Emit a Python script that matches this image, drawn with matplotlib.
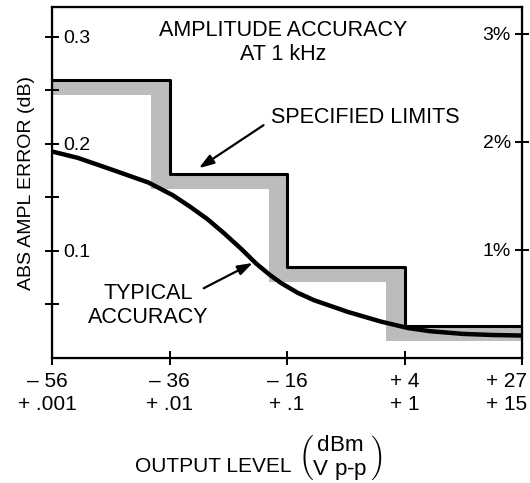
import numpy as np
import matplotlib
matplotlib.use('Agg')
import matplotlib.pyplot as plt
from matplotlib.transforms import ScaledTranslation

plt.rcParams['font.family'] = ['Liberation Sans', 'DejaVu Sans']
plt.rcParams['mathtext.fontset'] = 'custom'
plt.rcParams['mathtext.rm'] = 'Liberation Sans'

# x axis: five output levels, equally spaced
levels_dbm = ['– 56', '– 36', '– 16', '+ 4', '+ 27']
levels_vpp = ['+ .001', '+ .01', '+ .1', '+ 1', '+ 15']

# specified limits (dB), one level per segment
spec_edges = [0, 1, 2, 3, 4]
spec_db = [0.26, 0.172, 0.085, 0.030]

# typical accuracy curve (dB)
typ_x = [0.00, 0.22, 0.51, 0.82, 1.03, 1.18, 1.32, 1.46, 1.61, 1.74, 1.85, 1.95,
         2.09, 2.23, 2.52, 2.80, 3.03, 3.22, 3.50, 3.75, 4.00]
typ_db = [0.193, 0.187, 0.176, 0.164, 0.152, 0.141, 0.130, 0.117, 0.102, 0.088, 0.078, 0.070,
          0.061, 0.054, 0.043, 0.034, 0.028, 0.025, 0.0225, 0.0215, 0.021]

yticks_db = [0.05, 0.1, 0.15, 0.2, 0.25, 0.3]
ylabels_db = ['', '0.1', '', '0.2', '', '0.3']
yticks_pct = [1, 2, 3]
ylabels_pct = ['1%', '2%', '3%']

fig = plt.figure(figsize=(5.30, 4.83), dpi=100)
ax = fig.add_axes([52/530, 1-358/483, 470/530, 351/483])

# gray shadow band along the spec limit (shifted left / down)
dx, dy = 0.155, 0.014
bx = [0]
up = [spec_db[0]]
lo = [spec_db[0] - dy]
for i in range(1, len(spec_db)):
    bx += [spec_edges[i] - dx, spec_edges[i]]
    up += [spec_db[i-1], spec_db[i]]
    lo += [spec_db[i] - dy, spec_db[i] - dy]
bx.append(spec_edges[-1])
up.append(spec_db[-1])
lo.append(spec_db[-1] - dy)
ax.fill_between(bx, lo, up, step='post', facecolor='#bcbcbc', edgecolor='none', zorder=1)

ax.step(spec_edges, spec_db + [spec_db[-1]], where='post', color='black', lw=2.2, zorder=3)
ax.plot(typ_x, typ_db, color='black', lw=3.2, solid_joinstyle='round', zorder=4)

ax.set_xlim(0, 4)
ax.set_ylim(0, 0.328)
ax.set_xticks(range(5))
ax.set_xticklabels([a + '\n' + b for a, b in zip(levels_dbm, levels_vpp)],
                   fontsize=15, linespacing=1.3)
ax.set_yticks(yticks_db)
ax.set_yticklabels(ylabels_db, fontsize=14)
for lab in ax.get_yticklabels():
    lab.set_horizontalalignment('left')
ax.tick_params(axis='y', direction='inout', length=10, width=1.4, pad=-13)
ax.tick_params(axis='x', direction='inout', length=10, width=1.4, pad=5)
for s in ax.spines.values():
    s.set_linewidth(1.6)

# nudge the end labels like the original (last one sits against the edge)
xl = ax.get_xticklabels()
xl[0].set_transform(xl[0].get_transform() + ScaledTranslation(-0.05, 0, fig.dpi_scale_trans))
xl[-1].set_transform(xl[-1].get_transform() + ScaledTranslation(-0.15, 0, fig.dpi_scale_trans))

ax2 = ax.twinx()
ax2.set_ylim(0, 3.25)
ax2.set_yticks(yticks_pct)
ax2.set_yticklabels(ylabels_pct, fontsize=14)
for lab in ax2.get_yticklabels():
    lab.set_horizontalalignment('right')
ax2.tick_params(axis='y', direction='inout', length=10, width=1.4, pad=-13)

ax.set_ylabel('ABS AMPL ERROR (dB)', fontsize=14)
ax.yaxis.set_label_coords(-0.037, 0.5)

ax.text(1.97, 0.295, 'AMPLITUDE ACCURACY\nAT 1 kHz', ha='center', va='center',
        fontsize=15.5, linespacing=1.15)
ax.text(2.67, 0.225, 'SPECIFIED LIMITS', ha='center', va='center', fontsize=15.5)
ax.annotate('', xy=(1.23, 0.176), xytext=(1.82, 0.219),
            arrowprops=dict(arrowstyle='-|>,head_length=0.9,head_width=0.3',
                            color='black', lw=1.6))
ax.text(0.82, 0.049, 'TYPICAL\nACCURACY', ha='center', va='center',
        fontsize=15.5, linespacing=1.2)
ax.annotate('', xy=(1.73, 0.090), xytext=(1.27, 0.064),
            arrowprops=dict(arrowstyle='-|>,head_length=0.9,head_width=0.3',
                            color='black', lw=1.6))

fig.text(213/530, 1-467/483, 'OUTPUT LEVEL', ha='center', va='center', fontsize=15)
fig.text(340/530, 1-458/483, r'$\binom{\mathrm{dBm}}{\text{V p-p}}$',
         ha='center', va='center', fontsize=23)

fig.savefig('out.png', dpi=100)
